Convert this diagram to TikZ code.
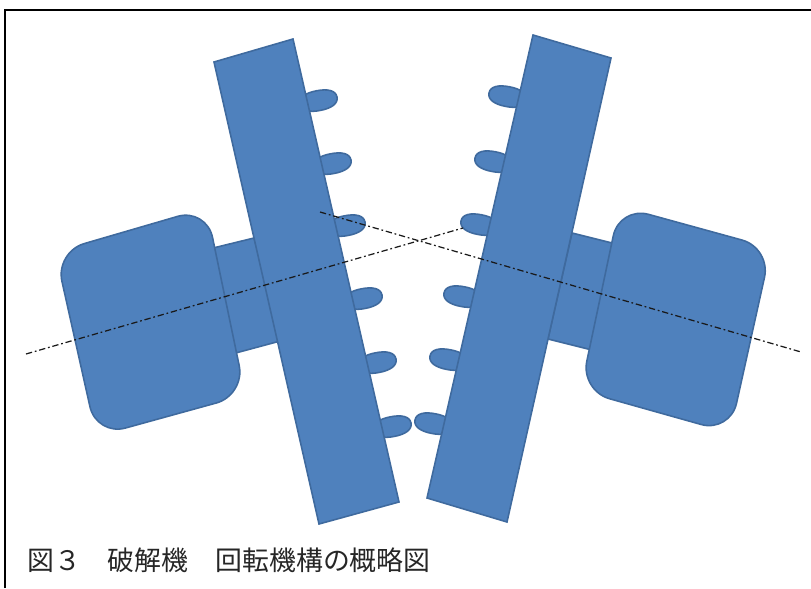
\documentclass[tikz,border=0pt]{standalone}
\usepackage{fontspec}
\newfontfamily\jpfont{Noto Sans CJK JP}
\definecolor{partfill}{HTML}{4F81BD}
\definecolor{partline}{HTML}{3F6A9E}
\tikzset{
	part/.style = {fill = partfill, draw = partline, line width = 0.9pt},
	axis/.style = {draw = black!90, line width = 0.7pt, dash pattern = on 3.6pt off 1.6pt on 1pt off 1.6pt}
}
\newcommand{\toothpath}{
	(0, 0) .. controls (0, -7) and (-8, -10) ..
	(-19, -10) .. controls (-30, -10) and (-38, -7) ..
	(-38, 0) .. controls (-38, 7) and (-30, 10) ..
	(-19, 10) .. controls (-8, 10) and (0, 7) ..
	(0, 0)}

\begin{document}
\begin{tikzpicture}[x = 0.02cm, y = -0.02cm]
\useasboundingbox (0, 0) rectangle (811, 588);
\draw[line width = 1.1pt] (5, 588) -- (5, 10) -- (811, 10);
% shafts
\filldraw[part] (205, 250) -- (254, 238) -- (284, 340) -- (232, 354) -- cycle;
\filldraw[part] (572, 233) -- (620, 245) -- (596, 351) -- (548, 339) -- cycle;
% motors
\filldraw[part, rounded corners = 0.6cm] (55.4, 252) -- (206.4, 208) -- (245.3, 395) -- (96.5, 436) -- cycle;
\filldraw[part, rounded corners = 0.6cm] (619.5, 206.4) -- (771, 248) -- (730, 432.6) -- (580.6, 390.6) -- cycle;
% teeth
\foreach \tipx/\tipy in {337/97, 351/160, 365/222, 382/295, 396/359, 411/423}
	\filldraw[part, shift = {(\tipx, \tipy)}, rotate = 11] \toothpath;
\foreach \tipx/\tipy in {489/93, 475/158, 461/221, 444/293, 430/356, 415/420}
	\filldraw[part, shift = {(\tipx, \tipy)}, xscale = -1, rotate = 11] \toothpath;
% plates
\filldraw[part] (214, 62) -- (293, 39) -- (399, 502) -- (319, 524) -- cycle;
\filldraw[part] (533, 35) -- (611, 58) -- (507, 522) -- (427, 498) -- cycle;
% axes
\draw[axis] (26, 354) -- (463, 228);
\draw[axis] (320, 212) -- (801, 352);
\node[anchor = west, inner sep = 0pt, font = \jpfont\fontsize{15.3pt}{15.3pt}\selectfont, color = black!85] (caption) at (27, 560) {図３　破解機　回転機構の概略図};
\end{tikzpicture}
\end{document}
